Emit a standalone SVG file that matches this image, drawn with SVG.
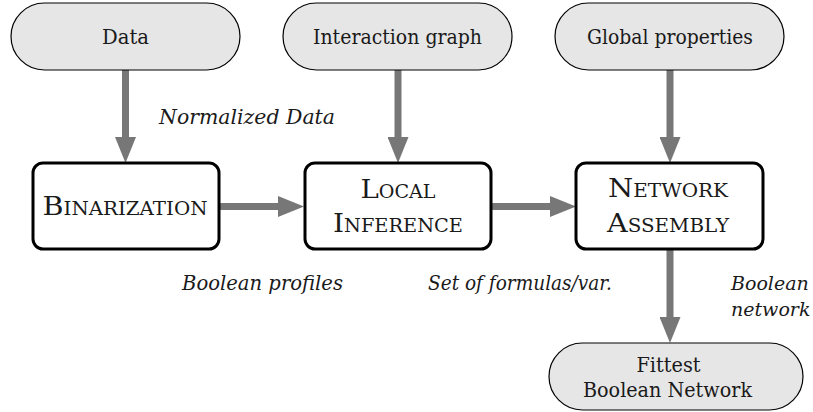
<svg xmlns="http://www.w3.org/2000/svg" width="813" height="412" viewBox="0 0 813 412">
<style>
.pill{fill:#e6e6e6;stroke:#000;stroke-width:1.2}
.box{fill:#fff;stroke:#000;stroke-width:3}
text{font-family:"DejaVu Serif","Liberation Serif","Noto Serif",serif;fill:#1a1a1a}
.t{font-size:21px;text-anchor:middle}
.sc{font-size:26px;font-variant:small-caps;text-anchor:middle}
.it{font-size:21px;font-style:italic}
.its{font-size:19px;font-style:italic}
.arr{stroke:#777;stroke-width:7;fill:none;marker-end:url(#ah)}
</style>
<defs>
<marker id="ah" markerUnits="userSpaceOnUse" markerWidth="26" markerHeight="21" viewBox="0 0 26 21" refX="0" refY="10.5" orient="auto">
<path d="M0,0 L26,10.5 L0,21 Z" fill="#777"/>
</marker>
</defs>
<g id="connectors">
<line class="arr" x1="125.5" y1="70" x2="125.5" y2="137"/>
<line class="arr" x1="398" y1="70" x2="398" y2="137"/>
<line class="arr" x1="670" y1="70" x2="670" y2="137"/>
<line class="arr" x1="219" y1="206.5" x2="278" y2="206.5"/>
<line class="arr" x1="491" y1="206.5" x2="550" y2="206.5"/>
<line class="arr" x1="670" y1="249" x2="670" y2="317"/>
<text class="it" x="159" y="124" textLength="176" lengthAdjust="spacingAndGlyphs">Normalized Data</text>
<text class="it" x="182" y="290" textLength="161" lengthAdjust="spacingAndGlyphs">Boolean profiles</text>
<text class="it" x="428" y="290" textLength="184" lengthAdjust="spacingAndGlyphs">Set of formulas/var.</text>
<text class="its" x="731" y="290">Boolean</text>
<text class="its" x="731" y="316">network</text>
</g>
<g id="data">
<rect class="pill" x="11" y="3" width="229" height="67" rx="33.5"/>
<text class="t" x="125.5" y="44" textLength="47" lengthAdjust="spacingAndGlyphs">Data</text>
</g>
<g id="interaction-graph">
<rect class="pill" x="283" y="3" width="229" height="67" rx="33.5"/>
<text class="t" x="397.5" y="44" textLength="169" lengthAdjust="spacingAndGlyphs">Interaction graph</text>
</g>
<g id="global-properties">
<rect class="pill" x="555" y="3" width="229" height="67" rx="33.5"/>
<text class="t" x="670" y="44" textLength="166" lengthAdjust="spacingAndGlyphs">Global properties</text>
</g>
<g id="binarization">
<rect class="box" x="33" y="163" width="186" height="86" rx="10"/>
<text class="sc" x="125" y="215" textLength="165" lengthAdjust="spacingAndGlyphs">Binarization</text>
</g>
<g id="local-inference">
<rect class="box" x="305" y="163" width="186" height="86" rx="10"/>
<text class="sc" x="398" y="198" textLength="75" lengthAdjust="spacingAndGlyphs">Local</text>
<text class="sc" x="398" y="232" textLength="130" lengthAdjust="spacingAndGlyphs">Inference</text>
</g>
<g id="network-assembly">
<rect class="box" x="576" y="163" width="187" height="86" rx="10"/>
<text class="sc" x="668" y="197" textLength="120" lengthAdjust="spacingAndGlyphs">Network</text>
<text class="sc" x="668" y="232" textLength="122" lengthAdjust="spacingAndGlyphs">Assembly</text>
</g>
<g id="fittest">
<rect class="pill" x="549" y="343" width="254" height="67" rx="33.5"/>
<text class="t" x="668.5" y="372" textLength="64" lengthAdjust="spacingAndGlyphs">Fittest</text>
<text class="t" x="667.5" y="397" textLength="169" lengthAdjust="spacingAndGlyphs">Boolean Network</text>
</g>
</svg>
